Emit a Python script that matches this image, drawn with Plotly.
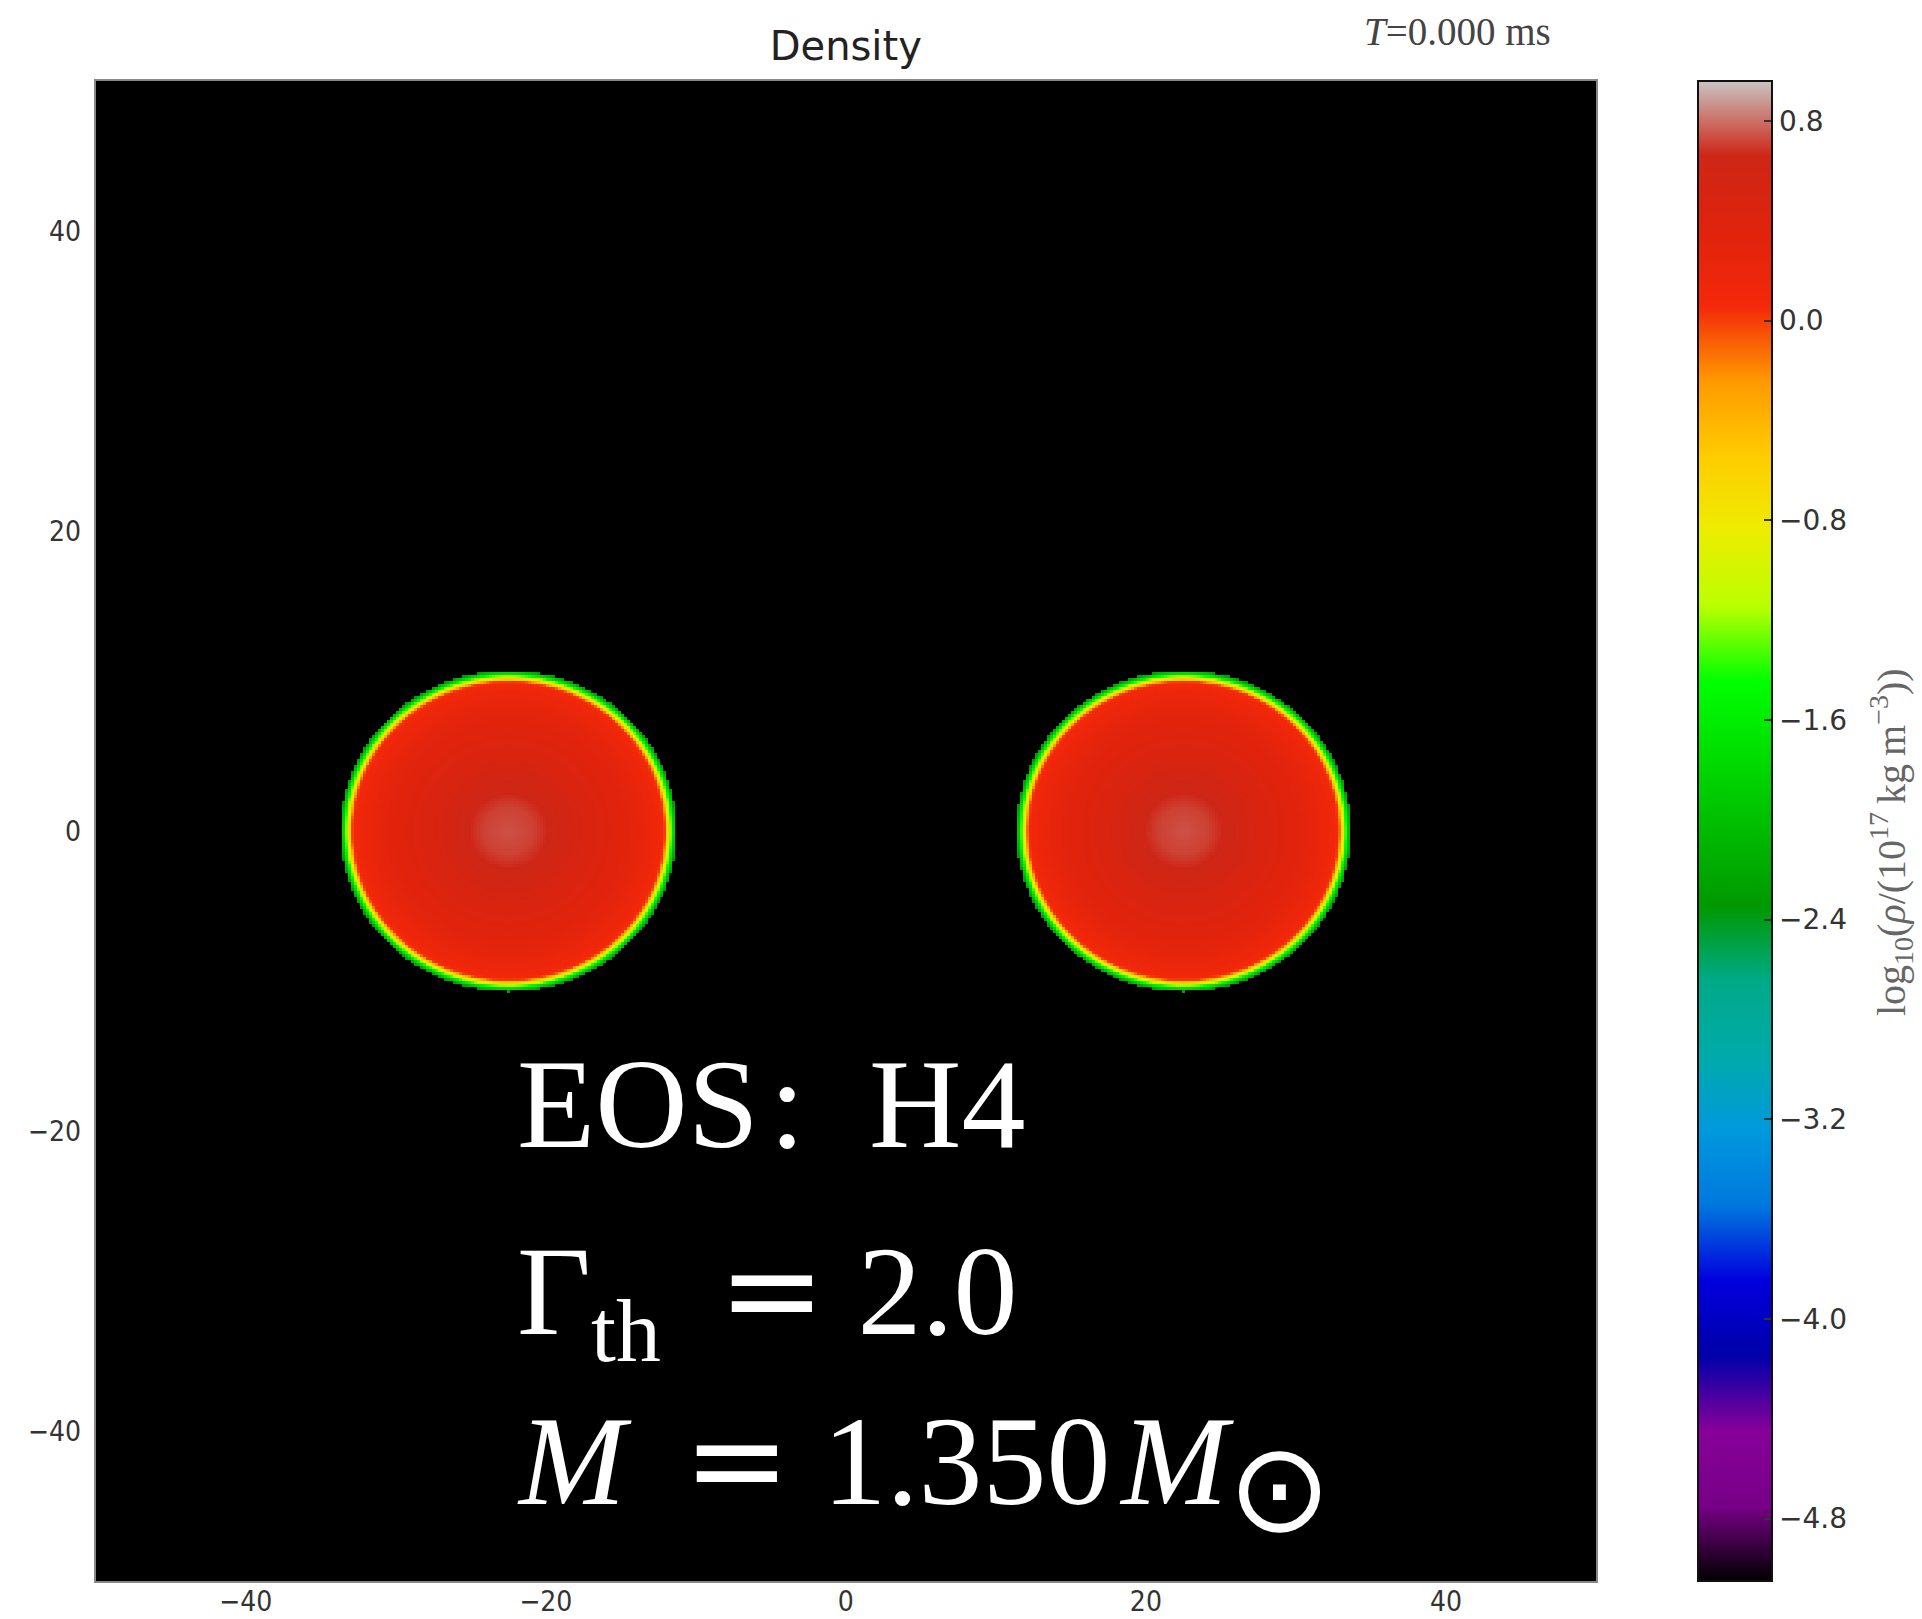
import numpy as np
import plotly.graph_objects as go

# ---- data -------------------------------------------------------------
# two neutron stars at t = 0, centres and semi-axes in km
star_x = [-22.5, 22.5]
star_y = [0.0, 0.0]
star_rx = [11.2, 11.15]
star_ry = [10.7, 10.7]

# radial log-density profile (normalised radius -> log10 rho)
profile_s = [0.0, 0.15, 0.25, 0.35, 0.45, 0.6, 0.75, 0.87, 0.915, 0.93, 0.95, 0.97, 0.985, 1.0]
profile_val = [0.74, 0.71, 0.65, 0.57, 0.49, 0.39, 0.29, 0.16, 0.07, 0.0, -0.75, -1.4, -1.9, -2.4]

floor_val = -5.05
zmin, zmax = -5.05, 0.96

x_ticks = [-40, -20, 0, 20, 40]
y_ticks = [-40, -20, 0, 20, 40]
cb_ticks = [0.8, 0.0, -0.8, -1.6, -2.4, -3.2, -4.0, -4.8]

# ---- density grid -----------------------------------------------------
h = 0.2
xs = np.arange(-50 + h / 2, 50, h)
ys = np.arange(-50 + h / 2, 50, h)
X, Y = np.meshgrid(xs, ys)
Z = np.full(X.shape, floor_val)
for cx, cy, rx, ry in zip(star_x, star_y, star_rx, star_ry):
    s = np.sqrt(((X - cx) / rx) ** 2 + ((Y - cy) / ry) ** 2)
    vals = np.interp(s, profile_s, profile_val, right=floor_val)
    vals[s > profile_s[-1]] = floor_val
    Z = np.maximum(Z, vals)
Z = np.round(Z, 3)

# nipy_spectral-style colour map (red end warmed slightly)
nodes = np.linspace(0, 1, 21)
r = [0, .4667, .5333, 0, 0, 0, 0, 0, 0, 0, 0, 0, 0, .7333, .9333, 1, 1, .96, .88, .81, .79]
g = [0, 0, 0, 0, 0, .4667, .6, .6667, .6667, .6, .7333, .8667, 1, 1, .9333, .8, .6, .16, .14, .15, .77]
b = [0, .5333, .6, .6667, .8667, .8667, .8667, .6667, .5333, 0, 0, 0, 0, 0, 0, 0, 0, .04, .05, .09, .77]
colorscale = [[float(p), f"rgb({int(rr*255)},{int(gg*255)},{int(bb*255)})"]
              for p, rr, gg, bb in zip(nodes, r, g, b)]

W, H = 1922, 1619
px0, px1 = 95.6, 1596.0
py0, py1 = 81.0, 1581.0

fig = go.Figure()
fig.add_trace(go.Heatmap(
    x=xs, y=ys, z=Z, zmin=zmin, zmax=zmax, colorscale=colorscale,
    zsmooth=False, hoverinfo="skip",
    colorbar=dict(
        x=1698 / W, xanchor="left", xref="container",
        y=1 - (py0 + py1) / 2 / H, yanchor="middle", yref="container",
        len=(py1 - py0) / H, lenmode="fraction",
        thickness=74, thicknessmode="pixels",
        xpad=0, ypad=0,
        outlinecolor="#111", outlinewidth=2,
        tickvals=cb_ticks,
        ticktext=[f"{v:.1f}".replace("-", "\u2212") for v in cb_ticks],
        ticks="inside", ticklen=9, tickwidth=2, tickcolor="#333",
        tickfont=dict(family="DejaVu Sans", size=28, color="#333"),
    ),
))

tick_font = dict(family="DejaVu Sans Condensed, DejaVu Sans", size=28, color="#333")
fig.update_layout(
    width=W, height=H,
    margin=dict(l=0, r=0, t=0, b=0, autoexpand=False),
    paper_bgcolor="white", plot_bgcolor="black",
    showlegend=False,
    title=dict(text="Density", x=(px0 + px1) / 2 / W, xanchor="center",
               y=1 - 46 / H, yanchor="middle", xref="container", yref="container",
               font=dict(family="DejaVu Sans", size=40, color="#222")),
    xaxis=dict(domain=[px0 / W, px1 / W], range=[-50, 50], tickvals=x_ticks,
               ticktext=[str(v).replace("-", "\u2212") for v in x_ticks],
               showgrid=False, zeroline=False, showline=True, mirror=True,
               linecolor="#888", linewidth=2, ticks="", ticklabelstandoff=-6,
               tickfont=tick_font),
    yaxis=dict(domain=[1 - py1 / H, 1 - py0 / H], range=[-50, 50], tickvals=y_ticks,
               ticktext=[str(v).replace("-", "\u2212") for v in y_ticks],
               showgrid=False, zeroline=False, showline=True, mirror=True,
               linecolor="#888", linewidth=2, ticks="", ticklabelstandoff=7,
               tickfont=tick_font),
)

serif = "Liberation Serif"
fig.add_annotation(text="<i>T</i>=0.000 ms", x=1457 / W, y=1 - 32 / H,
                   xref="paper", yref="paper", showarrow=False,
                   xanchor="center", yanchor="middle",
                   font=dict(family=serif, size=39, color="#444"))

# colour-bar label, rotated to read bottom-to-top
fig.add_annotation(
    text="log<sub>10</sub>(<i>ρ</i>/(10<sup>17</sup>\u2009kg\u2009m<sup>−3</sup>))",
    x=1891 / W, y=1 - 842 / H, xref="paper", yref="paper", showarrow=False,
    xanchor="center", yanchor="middle", textangle=-90,
    font=dict(family=serif, size=40, color="#666"))

eq = '<span style="font-family:DejaVu Sans">=</span>'
sun = '<span style="font-family:DejaVu Sans;font-size:124px">⊙</span>'
big = 128
lines = [
    ("EOS\u200a:\u2002H4", 1104),
    (f"Γ<sub>th</sub>\u2009 {eq} 2.0", 1297),
    (f"<i>M</i>\u2009 {eq} 1.350\u200a<i>M</i><sub>{sun}</sub>", 1472),
]
for txt, cy in lines:
    fig.add_annotation(text=txt, x=515 / W, y=1 - cy / H,
                       xref="paper", yref="paper", showarrow=False,
                       xanchor="left", yanchor="middle",
                       font=dict(family=serif, size=big, color="white"))

fig.write_html("out.html")
